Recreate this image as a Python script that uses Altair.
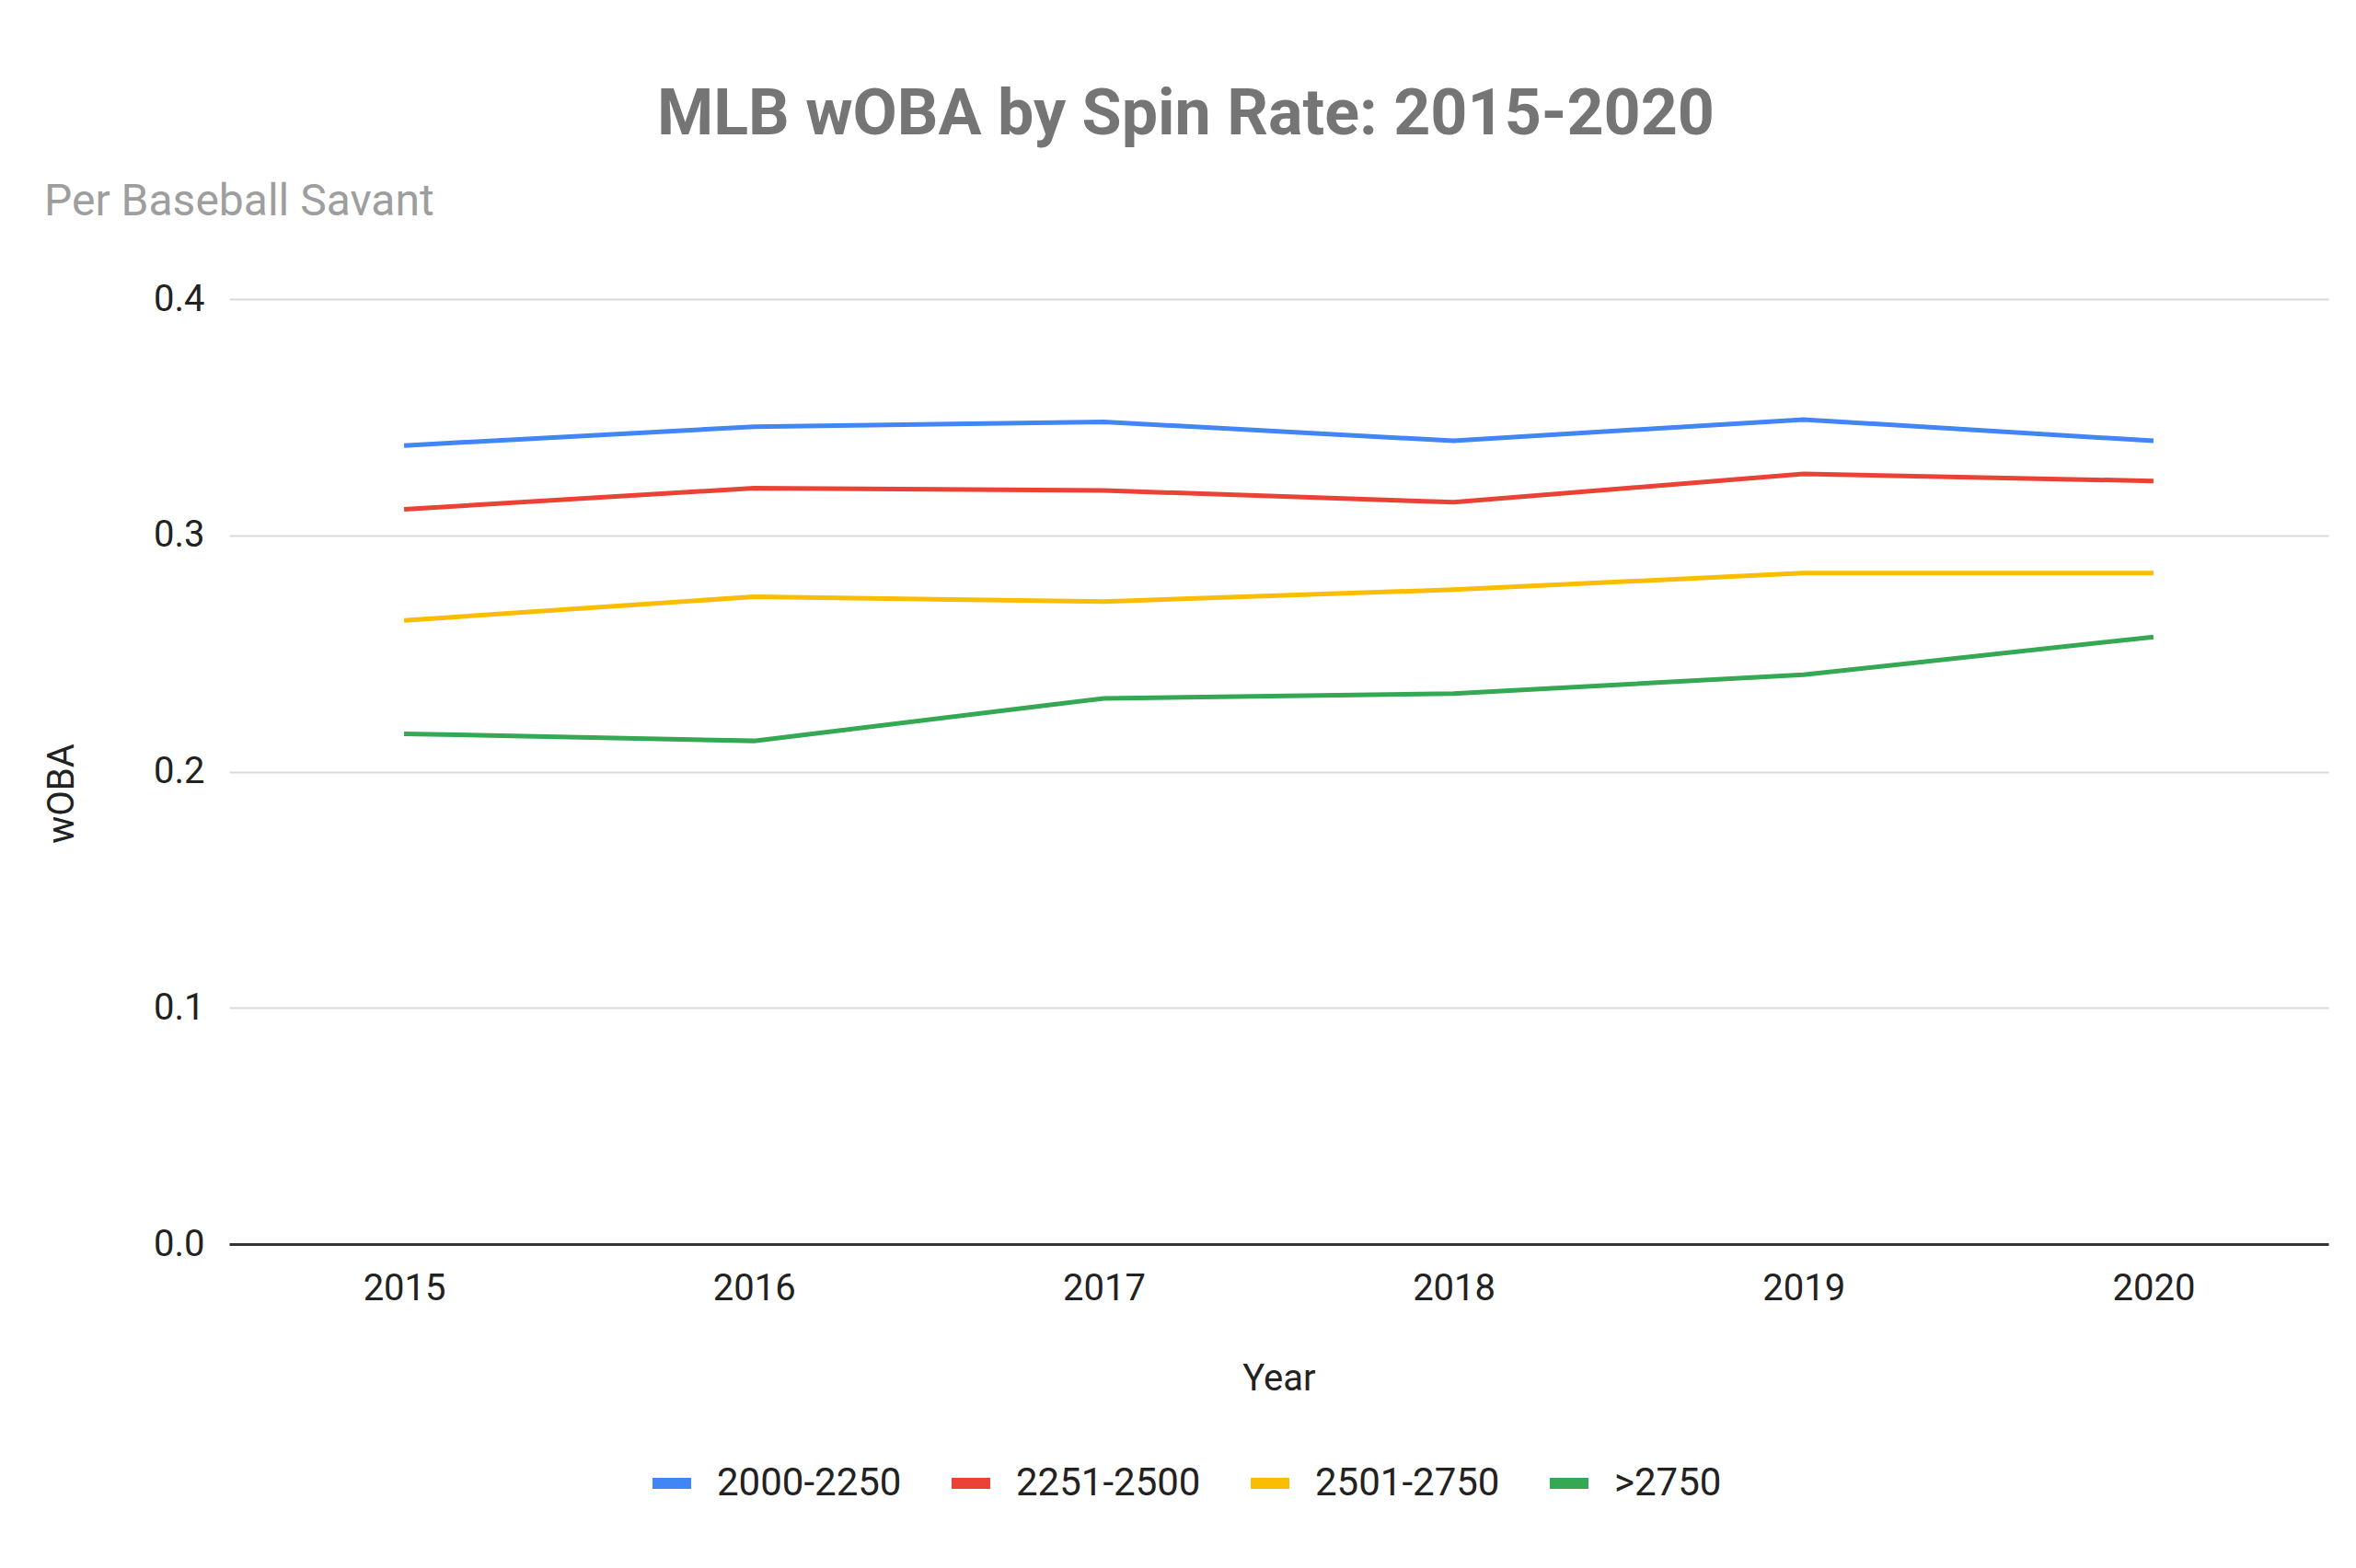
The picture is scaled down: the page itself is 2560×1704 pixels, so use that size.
import altair as alt
import pandas as pd

years = ["2015", "2016", "2017", "2018", "2019", "2020"]
series_names = ["2000-2250", "2251-2500", "2501-2750", ">2750"]
series_colors = ["#4285F4", "#EA4335", "#FBBC04", "#34A853"]

woba_2000_2250 = [0.338, 0.346, 0.348, 0.340, 0.349, 0.340]
woba_2251_2500 = [0.311, 0.320, 0.319, 0.314, 0.326, 0.323]
woba_2501_2750 = [0.264, 0.274, 0.272, 0.277, 0.284, 0.284]
woba_gt_2750 = [0.216, 0.213, 0.231, 0.233, 0.241, 0.257]

title_text = "MLB wOBA by Spin Rate: 2015-2020"
subtitle_text = "Per Baseball Savant"

rows = []
for name, vals in zip(series_names,
                      [woba_2000_2250, woba_2251_2500, woba_2501_2750, woba_gt_2750]):
    for yr, v in zip(years, vals):
        rows.append({"Year": yr, "wOBA": v, "Spin Rate": name})
df = pd.DataFrame(rows)

FONT = "Roboto"

lines = alt.Chart(df).mark_line(strokeWidth=5).encode(
    x=alt.X(
        "Year:O",
        sort=years,
        scale=alt.Scale(type="point", padding=0.5),
        axis=alt.Axis(
            title="Year", labelAngle=0, labelFontSize=40, labelColor="#222222",
            labelFont=FONT, ticks=False, domain=True, domainColor="#333333",
            domainWidth=3, labelPadding=28, grid=False, titleFontSize=40,
            titleFont=FONT, titleFontWeight="normal", titleColor="#222222",
            titlePadding=58,
        ),
    ),
    y=alt.Y(
        "wOBA:Q",
        scale=alt.Scale(domain=[0, 0.4], nice=False),
        axis=alt.Axis(
            title="wOBA", values=[0, 0.1, 0.2, 0.3, 0.4], format=".1f",
            labelFontSize=40, labelColor="#222222", labelFont=FONT,
            labelPadding=27, ticks=False, domain=False, grid=True,
            gridColor="#d9d9d9", gridWidth=2, titleFontSize=40, titleFont=FONT,
            titleFontWeight="normal", titleColor="#222222", titlePadding=79,
            titleY=537,
        ),
    ),
    color=alt.Color(
        "Spin Rate:N",
        sort=series_names,
        scale=alt.Scale(domain=series_names, range=series_colors),
        legend=alt.Legend(
            title=None, orient="none", direction="horizontal",
            legendX=454, legendY=1260, symbolType="stroke",
            symbolStrokeWidth=12, symbolSize=1764, labelFontSize=42,
            labelFont=FONT, labelColor="#222222", labelOffset=22,
            columnPadding=30, labelLimit=0,
        ),
    ),
)

subtitle = alt.Chart(pd.DataFrame({"t": [subtitle_text]})).mark_text(
    align="left", baseline="middle", fontSize=48, font=FONT, color="#9e9e9e"
).encode(text="t:N", x=alt.value(-201), y=alt.value(-105))

chart = alt.layer(lines, subtitle).properties(
    width=2281,
    height=1027,
    autosize=alt.AutoSizeParams(type="none"),
    padding={"left": 241, "top": 317, "right": 22, "bottom": 344},
    title=alt.TitleParams(
        text=title_text, fontSize=70, font=FONT, fontWeight="bold",
        color="#757575", anchor="middle", dx=-101, dy=69, baseline="bottom",
        offset=34,
    ),
).configure_view(strokeWidth=0)

chart.save("out.html", embed_options={"renderer": "svg", "actions": False})
